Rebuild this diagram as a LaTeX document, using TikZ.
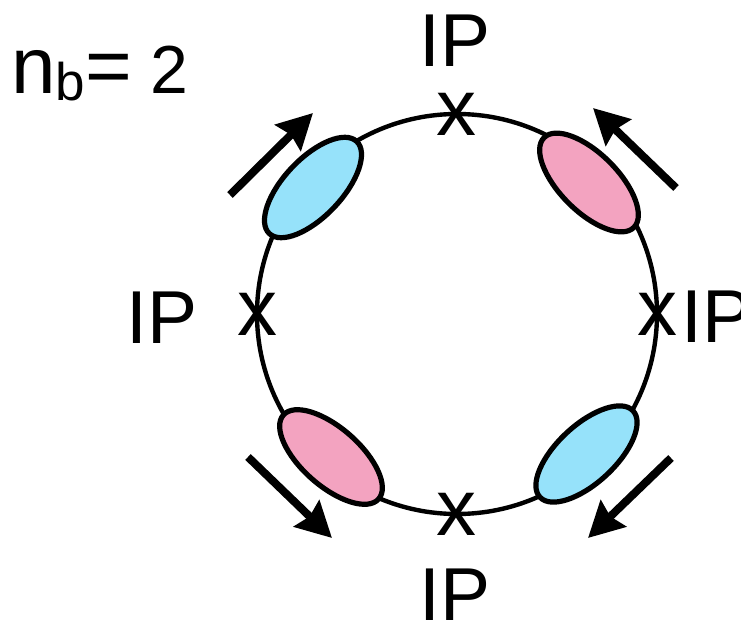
\documentclass[tikz,border=0pt]{standalone}
\usepackage{fontspec}
\setmainfont{Liberation Sans}
\usetikzlibrary{arrows.meta}

\definecolor{bunchblue}{HTML}{96E2FA}
\definecolor{bunchpink}{HTML}{F3A3C0}

\tikzset{
	ring/.style={line width=2.2pt},
	bunch/.style={line width=2.6pt},
	flow/.style={line width=4pt, -{Stealth[length=17.5pt, width=18pt, inset=2pt]}},
	iplabel/.style={inner sep=0pt, font=\fontsize{37.5}{40}\selectfont},
	ipmark/.style={inner sep=0pt, font=\fontsize{40}{42}\selectfont}
}

\begin{document}
\begin{tikzpicture}[x=0.5pt, y=0.5pt]
		\useasboundingbox (0,0) rectangle (741,623);
		% ring
		\coordinate (c) at (457,309);
		\draw[ring] (c) circle[radius=200];
		% bunches
		\draw[bunch, fill=bunchblue, rotate around={46.5:(313,435.5)}] (313,435.5) ellipse[x radius=63.5, y radius=29];
		\draw[bunch, fill=bunchpink, rotate around={-45:(589,440.5)}] (589,440.5) ellipse[x radius=63.5, y radius=29];
		\draw[bunch, fill=bunchpink, rotate around={-41.4:(331,166)}] (331,166) ellipse[x radius=63.5, y radius=29];
		\draw[bunch, fill=bunchblue, rotate around={42.8:(586.5,169)}] (586.5,169) ellipse[x radius=63.5, y radius=29];
		% interaction points
		\node[ipmark] (xtop) at (457,509) {x};
		\node[ipmark] (xleft) at (257,309) {x};
		\node[ipmark] (xright) at (657,309) {x};
		\node[ipmark] (xbottom) at (457,109) {x};
		\node[iplabel, anchor=base] (iptop) at (455,556) {IP};
		\node[iplabel, anchor=base] (ipleft) at (162,279) {IP};
		\node[iplabel, anchor=base west] (ipright) at (681,280) {IP};
		\node[iplabel, anchor=base] (ipbottom) at (455,3) {IP};
		% directions
		\coordinate (tl0) at (230,428); \coordinate (tl1) at (313,510);
		\coordinate (tr0) at (676,435); \coordinate (tr1) at (593,515);
		\coordinate (br0) at (671,165); \coordinate (br1) at (588,85);
		\coordinate (bl0) at (248,166); \coordinate (bl1) at (332,85);
		\draw[flow] (tl0) -- (tl1);
		\draw[flow] (tr0) -- (tr1);
		\draw[flow] (br0) -- (br1);
		\draw[flow] (bl0) -- (bl1);
		% number of bunches
		\node[inner sep=0pt, anchor=base west, font=\fontsize{40}{42}\selectfont] (nb) at (11,530)
			{n{\fontsize{26.5}{28}\selectfont\raisebox{-3.5pt}{b}}=\fontsize{34}{36}\selectfont{} 2};
	\end{tikzpicture}
\end{document}
